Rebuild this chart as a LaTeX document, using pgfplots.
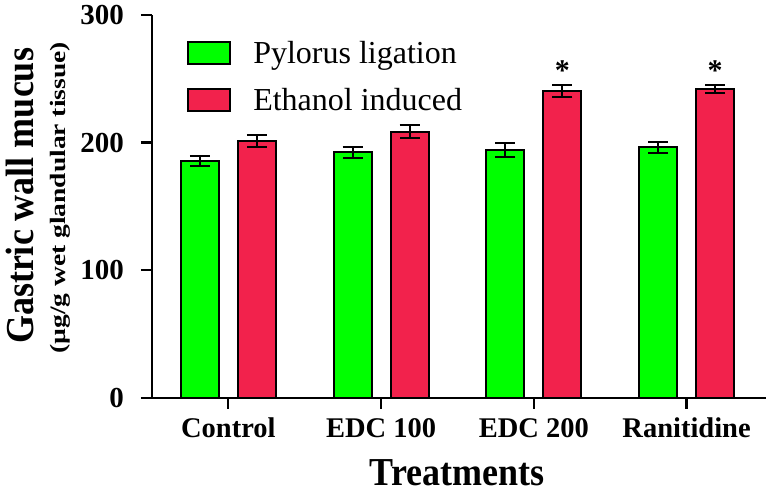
\documentclass[border=0pt]{standalone}
\usepackage{fontspec}
\setmainfont{Liberation Serif}
\usepackage{pgfplots}
\pgfplotsset{compat=1.18}
\definecolor{pgreen}{RGB}{0,255,0}
\definecolor{ered}{RGB}{242,34,76}
\begin{document}
\begin{tikzpicture}[x=1pt,y=1pt]
\useasboundingbox (0,0) rectangle (767,495);
\begin{axis}[
  at={(152pt,97.3pt)}, anchor=south west,
  scale only axis, width=614pt, height=382.7pt,
  xmin=-0.5, xmax=3.52, ymin=0, ymax=300,
  axis x line*=bottom, axis y line*=left,
  axis line style={line width=2.2pt, black},
  ybar=19pt, bar width=38pt,
  xtick={0,1,2,3}, xticklabels={Control, EDC 100, EDC 200, Ranitidine},
  ytick={0,100,200,300},
  tick align=outside, major tick length=11pt,
  every tick/.style={black, line width=2.2pt},
  /pgf/number format/assume math mode=true,
  yticklabel style={font=\bfseries\fontsize{29}{29}\selectfont, anchor=east, inner sep=0pt, xshift=-17pt},
  xticklabel style={font=\bfseries\fontsize{28.5}{28.5}\selectfont, anchor=base, inner sep=0pt, yshift=-28.4pt},
  legend style={draw=none, fill=none, inner xsep=0pt, inner ysep=0pt,
    at={(axis description cs:0.0565,0.9328)}, anchor=north west,
    font=\fontsize{32}{32}\selectfont, row sep=22.6pt, column sep=22.4pt,
    nodes={inner sep=0pt, text height=22pt, text depth=0pt}},
  legend cell align=left,
]
\addplot[fill=pgreen, draw=black, line width=2pt,
  legend image code/.code={\draw[fill=pgreen, draw=black, line width=2pt] (0pt,-11pt) rectangle (42pt,11pt);},
  error bars/.cd, y dir=both, y explicit, error mark=|,
  error bar style={line width=2pt, black},
  error mark options={black, line width=2pt, mark size=10pt}]
coordinates {(0,185.3) +- (0,3.9) (1,192.4) +- (0,4.5) (2,194.2) +- (0,5.5) (3,196.3) +- (0,4.4)};
\addlegendentry{Pylorus ligation}
\addplot[fill=ered, draw=black, line width=2pt,
  legend image code/.code={\draw[fill=ered, draw=black, line width=2pt] (0pt,-11pt) rectangle (42pt,11pt);},
  error bars/.cd, y dir=both, y explicit, error mark=|,
  error bar style={line width=2pt, black},
  error mark options={black, line width=2pt, mark size=10pt}]
coordinates {(0,201.5) +- (0,4.7) (1,208.5) +- (0,5.3) (2,240.7) +- (0,4.7) (3,242) +- (0,3.4)};
\addlegendentry{Ethanol induced}
\node[anchor=base, xshift=28.5pt, font=\bfseries\fontsize{30}{30}\selectfont] at (axis cs:2,249) {*};
\node[anchor=base, xshift=28.5pt, font=\bfseries\fontsize{30}{30}\selectfont] at (axis cs:3,249) {*};
\end{axis}
\node[rotate=90, anchor=base, font=\bfseries\fontsize{36}{36}\selectfont] at (33,299) {\scalebox{1}[1.1]{Gastric wall mucus}};
\node[rotate=90, anchor=base, font=\bfseries\fontsize{22}{22}\selectfont] at (65,297) {\scalebox{1.25}[1]{(µg/g wet glandular tissue)}};
\node[anchor=base, font=\bfseries\fontsize{36}{36}\selectfont] at (457,10) {\scalebox{1}[1.1]{Treatments}};
\end{tikzpicture}
\end{document}
